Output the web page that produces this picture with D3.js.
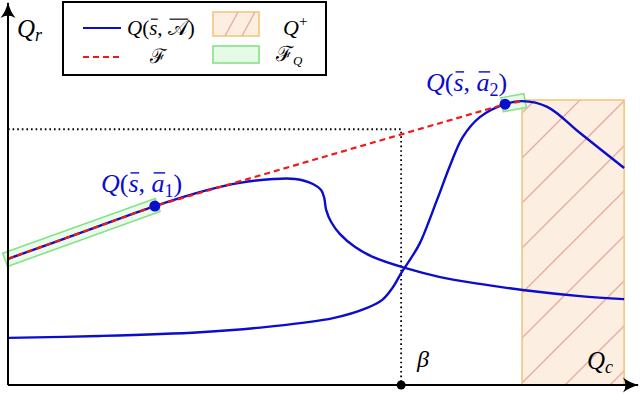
<!DOCTYPE html>
<html lang="en">
<head>
<meta charset="UTF-8">
<script src="https://d3js.org/d3.v7.min.js"></script>
<title>Q curves</title>
<style>
    html,body{margin:0;padding:0;background:#fff;}
    .it{font-style:italic;}
</style>
</head>
<body>
<div id="chart"></div>
<script>
// chart units: Q_c along x (0..100), Q_r along y (0..100)
var curveA = [[0,33.2],[11.6,40.1],[23.3,47.1],[31.6,51.3],[36.8,53.2],[42.1,54.2],[45.6,54.2],
              [48.4,52.9],[49.7,51.3],[50.2,49.2],[50.5,46.1],[51.3,42.9],[52.7,39.7],[55.1,36.3],
              [57.9,33.7],[63.0,30.8],[68.6,28.4],[74.9,26.6],[81.7,25.0],[90.8,23.4],[97.8,22.6]];
var curveB = [[0,12.4],[14.6,12.9],[30.5,13.9],[41.1,15.3],[51.6,17.6],[57.0,20.3],[59.4,22.4],
              [61.0,25.5],[62.5,29.7],[64.1,33.7],[65.4,37.4],[68.1,48.7],[70.2,57.9],[72.2,65.3],
              [74.9,70.5],[78.9,73.9],[81.6,74.7],[85.6,73.2],[90.8,66.3],[97.8,57.1]];
var envelope = [[0,33.2],[23.3,47.1],[78.9,73.9],[81.6,74.7]];   // F
var fqSegments = [[0,1],[2,3]];                                    // parts of F on Q
var optPoints = [{p:[23.3,47.1], sub:"1"},{p:[78.9,73.9], sub:"2"}];
var qPlus = {x0:81.6, x1:97.8, top:75.0};
var beta = 62.4, fBeta = 67.3;

var width = 640, height = 412;
var x = d3.scaleLinear().domain([0,100]).range([8,638]);
var y = d3.scaleLinear().domain([0,100]).range([385,5]);

var serif = "'Liberation Serif', 'DejaVu Serif', serif";
var blue = "#0c0ccc", red = "#f01818";
var orangeFill = "#fdeee2", orangeLine = "#f2c77c", hatchCol = "#e6aca0";
var greenFill = "#e5fbe5", greenLine = "#86e286";

var svg = d3.select("#chart").append("svg")
    .attr("width", width).attr("height", height)
    .attr("font-family", serif);

var defs = svg.append("defs");
var pat = defs.append("pattern").attr("id","hatch")
    .attr("patternUnits","userSpaceOnUse").attr("x",5).attr("y",0)
    .attr("width",45).attr("height",45);
pat.append("path").attr("d","M0,45 L45,0 M-5,5 L5,-5 M40,50 L50,40")
    .attr("stroke",hatchCol).attr("stroke-width",1.4);

defs.append("marker").attr("id","arr")
    .attr("viewBox","-16 -8 18 16").attr("markerWidth",18).attr("markerHeight",16)
    .attr("refX",0).attr("refY",0).attr("orient","auto").attr("markerUnits","userSpaceOnUse")
  .append("path").attr("d","M1,0 Q-8,-2 -15,-7.5 Q-10,0 -15,7.5 Q-8,2 1,0 Z").attr("fill","#000");

// Q+ region
svg.append("rect")
    .attr("x", x(qPlus.x0)).attr("y", y(qPlus.top))
    .attr("width", x(qPlus.x1)-x(qPlus.x0)).attr("height", y(0)-y(qPlus.top))
    .attr("fill", orangeFill);
svg.append("rect")
    .attr("x", x(qPlus.x0)).attr("y", y(qPlus.top))
    .attr("width", x(qPlus.x1)-x(qPlus.x0)).attr("height", y(0)-y(qPlus.top))
    .attr("fill", "url(#hatch)").attr("stroke", orangeLine).attr("stroke-width",1.6);

// F_Q bands around segments
fqSegments.forEach(function(s){
    var a = [x(envelope[s[0]][0]), y(envelope[s[0]][1])];
    var b = [x(envelope[s[1]][0]), y(envelope[s[1]][1])];
    var dx = b[0]-a[0], dy = b[1]-a[1], L = Math.sqrt(dx*dx+dy*dy);
    var ux = dx/L, uy = dy/L, nx = -uy*7, ny = ux*7, e = 3;
    var p0 = [a[0]-ux*e, a[1]-uy*e], p1 = [b[0]+ux*e, b[1]+uy*e];
    var pts = [[p0[0]+nx,p0[1]+ny],[p1[0]+nx,p1[1]+ny],[p1[0]-nx,p1[1]-ny],[p0[0]-nx,p0[1]-ny]];
    svg.append("polygon").attr("points", pts.map(function(p){return p.join(",");}).join(" "))
        .attr("fill", greenFill).attr("fill-opacity",0.85)
        .attr("stroke", greenLine).attr("stroke-width",1.6);
});

// dotted guides
svg.append("path")
    .attr("d", "M"+x(0)+","+y(fBeta)+" H"+x(beta)+" V"+y(0))
    .attr("fill","none").attr("stroke","#000").attr("stroke-width",1.8)
    .attr("stroke-dasharray","1.6,3");

var line = d3.line().x(function(d){return x(d[0]);}).y(function(d){return y(d[1]);})
    .curve(d3.curveCatmullRom.alpha(0.5));

svg.append("path").datum(curveA).attr("d", line)
    .attr("fill","none").attr("stroke",blue).attr("stroke-width",2.4);
svg.append("path").datum(curveB).attr("d", line)
    .attr("fill","none").attr("stroke",blue).attr("stroke-width",2.4);

svg.append("path").datum(envelope)
    .attr("d", d3.line().x(function(d){return x(d[0]);}).y(function(d){return y(d[1]);}))
    .attr("fill","none").attr("stroke",red).attr("stroke-width",2.2)
    .attr("stroke-dasharray","6,4");

// axes
svg.append("line").attr("x1",x(0)).attr("y1",y(0)).attr("x2",x(0)).attr("y2",y(100)-2)
    .attr("stroke","#000").attr("stroke-width",2).attr("marker-end","url(#arr)");
svg.append("line").attr("x1",x(0)).attr("y1",y(0)).attr("x2",x(100)).attr("y2",y(0))
    .attr("stroke","#000").attr("stroke-width",2).attr("marker-end","url(#arr)");

svg.append("circle").attr("cx",x(beta)).attr("cy",y(0)).attr("r",4.5).attr("fill","#000");

// labels helper: tspans, with overline bars measured after layout
function rich(sel, parts, col){
    var bars = [];
    parts.forEach(function(p){
        var t = sel.append("tspan").text(p.t);
        if(p.c) t.attr("class", p.c);
        if(p.dy) t.attr("dy", p.dy);
        if(p.fs) t.attr("font-size", p.fs);
        if(p.bar) bars.push(t);
    });
    var fs = +sel.attr("font-size"), base = +sel.attr("y");
    bars.forEach(function(t){
        var n = t.node(), x0 = n.getStartPositionOfChar(0).x, w = n.getComputedTextLength();
        var top = n.getExtentOfChar(0).y;
        var yy = Math.min(base - fs*0.55, top + fs*0.15);
        svg.append("line").attr("x1",x0+fs*0.08).attr("x2",x0+w+fs*0.02)
            .attr("y1",yy).attr("y2",yy).attr("stroke",col||"#000").attr("stroke-width",fs*0.055);
    });
    return sel;
}

optPoints.forEach(function(d){
    svg.append("circle").attr("cx",x(d.p[0])).attr("cy",y(d.p[1])).attr("r",5.5).attr("fill",blue);
});
optPoints.forEach(function(d, i){
    var pos = i == 0 ? [101,192] : [426,91];
    rich(svg.append("text").attr("x",pos[0]).attr("y",pos[1]).attr("font-size",26).attr("fill",blue),
        [{t:"Q",c:"it"},{t:"("},{t:"s",c:"it",bar:1},{t:", "},{t:"a",c:"it",bar:1},
         {t:d.sub,dy:5,fs:18},{t:")",dy:-5}], blue);
});

rich(svg.append("text").attr("x",17).attr("y",37).attr("font-size",25),
    [{t:"Q",c:"it"},{t:"r",c:"it",dy:4,fs:18}]);
rich(svg.append("text").attr("x",587).attr("y",369).attr("font-size",25),
    [{t:"Q",c:"it"},{t:"c",c:"it",dy:4,fs:18}]);
svg.append("text").attr("x",417).attr("y",367).attr("font-size",24).attr("class","it").text("β");

// legend
var lg = svg.append("g");
lg.append("rect").attr("x",63).attr("y",2).attr("width",263).attr("height",73)
    .attr("fill","#fff").attr("stroke","#000").attr("stroke-width",2);
lg.append("line").attr("x1",83).attr("x2",121).attr("y1",28).attr("y2",28)
    .attr("stroke",blue).attr("stroke-width",2);
rich(lg.append("text").attr("x",127).attr("y",35).attr("font-size",21),
    [{t:"Q",c:"it"},{t:"("},{t:"s",c:"it",bar:1},{t:", "},{t:"𝒜",bar:1},{t:")"}]);
lg.append("line").attr("x1",83).attr("x2",121).attr("y1",57).attr("y2",57)
    .attr("stroke",red).attr("stroke-width",2).attr("stroke-dasharray","6,4");
lg.append("text").attr("x",150).attr("y",63).attr("font-size",20).text("ℱ");

lg.append("rect").attr("x",213).attr("y",12).attr("width",46).attr("height",24)
    .attr("fill",orangeFill).attr("stroke",orangeLine).attr("stroke-width",1.6);
lg.append("path").attr("d","M225,36 L238,12 M242,36 L255,12")
    .attr("stroke",hatchCol).attr("stroke-width",1.4);
rich(lg.append("text").attr("x",283).attr("y",35).attr("font-size",22),
    [{t:"Q",c:"it"},{t:"+",dy:-9,fs:15}]);
lg.append("rect").attr("x",213).attr("y",46).attr("width",46).attr("height",17)
    .attr("fill",greenFill).attr("stroke",greenLine).attr("stroke-width",1.6);
rich(lg.append("text").attr("x",276).attr("y",61).attr("font-size",21),
    [{t:"ℱ"},{t:"Q",c:"it",dy:4,fs:13}]);
</script>
</body>
</html>
